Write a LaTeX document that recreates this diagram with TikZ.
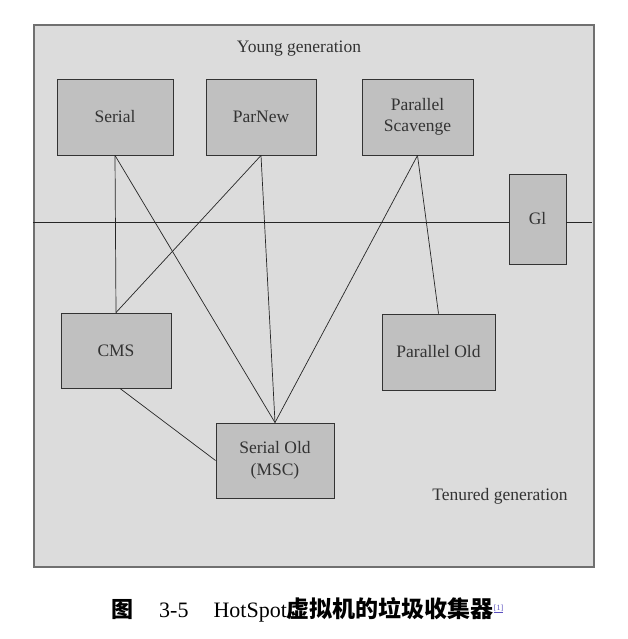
\documentclass[tikz,border=0pt]{standalone}
\usepackage{fontspec}
\setmainfont{Liberation Serif}
\newfontfamily\cjk{Noto Sans CJK SC}
\usepackage{xcolor}
\usepackage{tikz}
\usetikzlibrary{positioning}
\definecolor{areagray}{HTML}{DCDCDC}
\definecolor{boxgray}{HTML}{C0C0C0}
\definecolor{edgegray}{HTML}{707070}
\definecolor{labelgray}{HTML}{333333}
\definecolor{notelink}{HTML}{5A50C0}

\begin{document}
\begin{tikzpicture}[
    x=1pt, y=-1pt,
    heap/.style={rectangle, draw=edgegray, fill=areagray, line width=1.6pt, minimum width=560pt, minimum height=542pt, inner sep=0pt},
    gc/.style={rectangle, draw=black!80, fill=boxgray, line width=0.9pt, align=center, inner sep=0pt, font=\fontsize{17.5}{21.5}\selectfont, text=labelgray},
    area/.style={font=\fontsize{17.5}{21}\selectfont, text=labelgray},
    link/.style={black!85, line width=0.7pt}
]
\useasboundingbox (0,0) rectangle (628,639);

% Heap area
\node[heap] (heap) at (314, 296) {};
\node[area] (young) at (299, 49) {Young generation};
\node[area] (tenured) at (500, 496) {Tenured generation};

% Young generation collectors
\node[gc, minimum width=116pt, minimum height=76pt] (serial) at (115, 117) {Serial};
\node[gc, minimum width=110pt, minimum height=76pt] (parnew) at (261, 117) {\raisebox{-4pt}{ParNew}};
\node[gc, minimum width=111pt, minimum height=76pt] (scavenge) at (417.5, 117) {Parallel\\Scavenge};

% G1 - on the border line
\node[gc, minimum width=57pt, minimum height=90pt] (g1) at (537.5, 219) {Gl};

% Tenured generation collectors
\node[gc, minimum width=110pt, minimum height=75pt] (cms) at (116, 350.5) {CMS};
\node[gc, minimum width=113pt, minimum height=76pt] (parold) at (438.5, 352) {Parallel Old};
\node[gc, minimum width=118pt, minimum height=75pt] (serold) at (275, 460.5) {Serial Old\\(MSC)};

% Border between generations
\coordinate (gIn) at ([yshift=-3pt]g1.west);
\coordinate (gOut) at ([yshift=-3pt]g1.east);
\coordinate (lineL) at (heap.west |- gIn);
\coordinate (lineR) at (592, 222);
\draw[link] (lineL) -- (gIn);
\draw[link] (gOut) -- (lineR);

% Collector pairs
\draw[link] (serial.south) -- (cms.north);
\draw[link] (serial.south) -- (serold.north);
\draw[link] (parnew.south) -- (cms.north);
\draw[link] (parnew.south) -- (serold.north);
\draw[link] (scavenge.south) -- (serold.north);
\draw[link] (scavenge.south) -- (parold.north);
\draw[link] ([xshift=4pt]cms.south) -- (serold.west);

% Caption
\node[anchor=base west, font=\fontsize{22}{26}\selectfont, inner sep=0pt] (caption) at (111, 617)
  {{\cjk\bfseries 图}\hspace{26pt}3-5\hspace{25pt}HotSpot{\cjk\bfseries\fontsize{23}{26}\selectfont 虚拟机的垃圾收集器}\raisebox{7pt}{\fontsize{8}{9}\selectfont\color{notelink}\underline{[1]}}};

\end{tikzpicture}
\end{document}
